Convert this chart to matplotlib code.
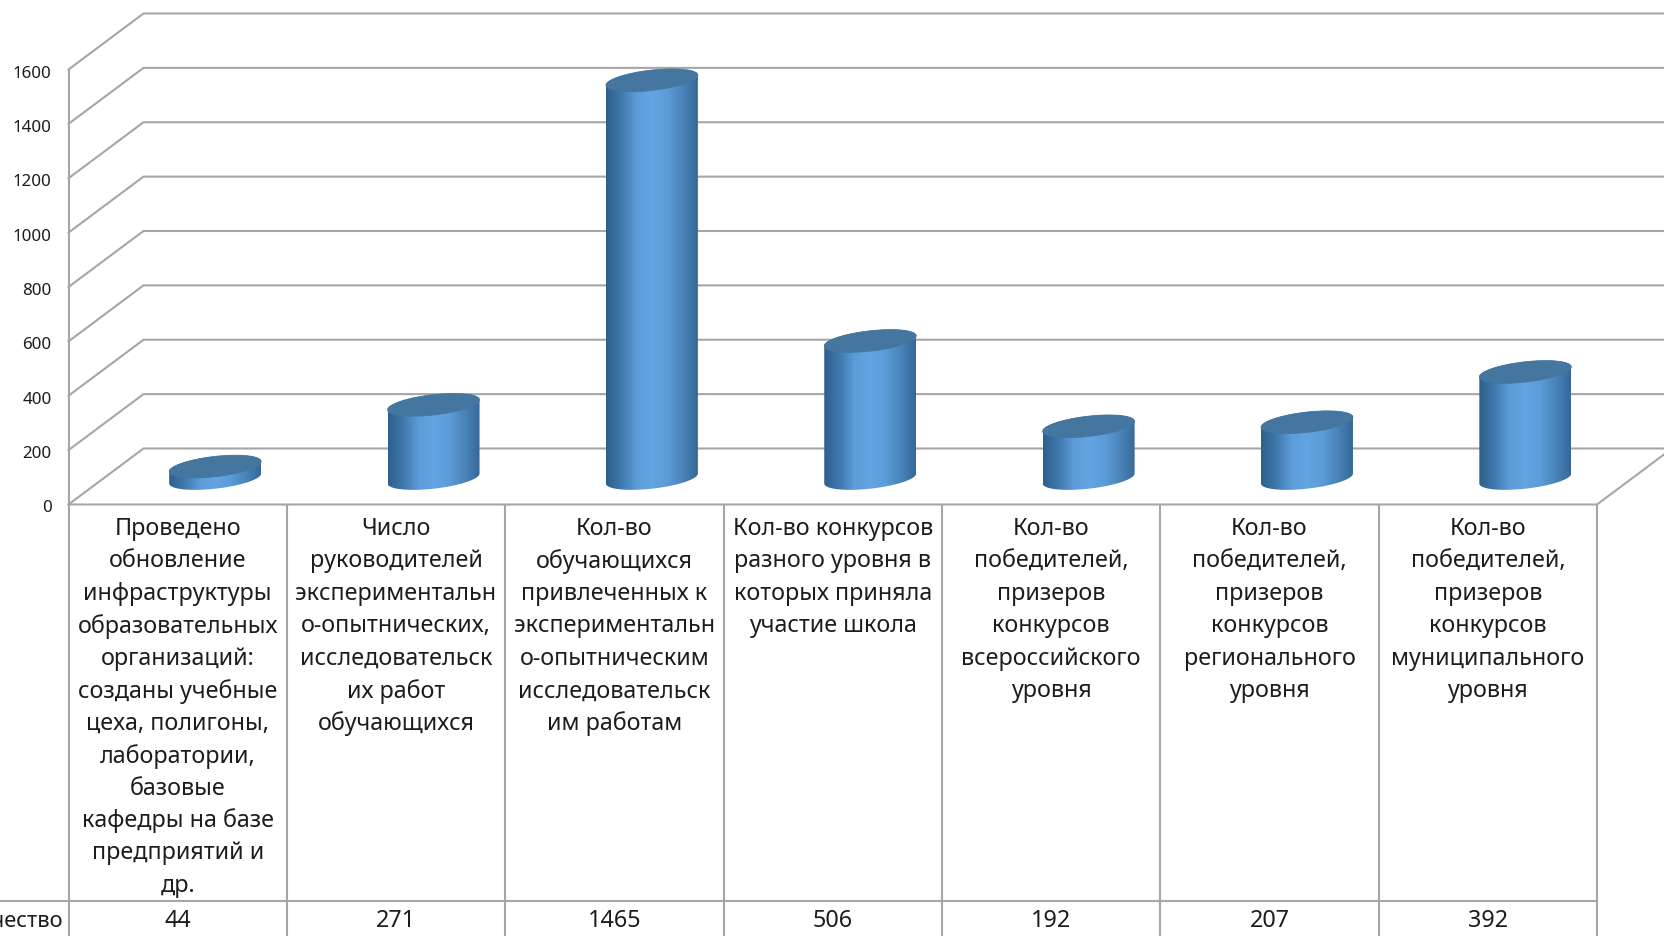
import numpy as np
import matplotlib
matplotlib.use("Agg")
import matplotlib.pyplot as plt
from matplotlib.colors import LinearSegmentedColormap
from matplotlib.patches import Polygon

FONT = "Noto Sans"
W, H = 1664, 937

categories = [
    ["Проведено", "обновление", "инфраструктуры", "образовательных", "организаций:",
     "созданы учебные", "цеха, полигоны,", "лаборатории,", "базовые",
     "кафедры на базе", "предприятий и", "др."],
    ["Число", "руководителей", "экспериментальн", "о-опытнических,",
     "исследовательск", "их работ", "обучающихся"],
    ["Кол-во", "обучающихся", "привлеченных к", "экспериментальн",
     "о-опытническим", "исследовательск", "им работам"],
    ["Кол-во конкурсов", "разного уровня в", "которых приняла", "участие школа"],
    ["Кол-во", "победителей,", "призеров", "конкурсов", "всероссийского", "уровня"],
    ["Кол-во", "победителей,", "призеров", "конкурсов", "регионального", "уровня"],
    ["Кол-во", "победителей,", "призеров", "конкурсов", "муниципального", "уровня"],
]
values = [44, 271, 1465, 506, 192, 207, 392]
y_ticks = [0, 200, 400, 600, 800, 1000, 1200, 1400, 1600]
row_label = "Количество"

GRID = "#a6a6a6"
TEXT = "#1c1c1c"
LEFT, RIGHT, BOTTOM, TOP = 68.5, 1597, 505.5, 70.5
DEPTH_X, DEPTH_Y = 75, 56

fig = plt.figure(figsize=(W / 100, H / 100), dpi=100, facecolor="white")
ax = fig.add_axes([LEFT / W, 1 - BOTTOM / H, (RIGHT - LEFT) / W, (BOTTOM - TOP) / H])
ax.axis("off")

px_x = (RIGHT - LEFT) / len(values)
px_y = (BOTTOM - TOP) / 1600
dx = DEPTH_X / px_x
dy = DEPTH_Y / px_y

# walls: diagonal from the front edge, then the line along the back
for t in y_ticks:
    ax.plot([0, dx, len(values) + dx], [t, t + dy, t + dy], color=GRID, lw=1.5,
            clip_on=False, solid_joinstyle="miter", zorder=1)
    ax.text(-17 / px_x, t - 3 / px_y, str(t), ha="right", va="center", fontsize=12.2,
            family=FONT, color=TEXT, clip_on=False)
ax.plot([0, 0], [0, 1600], color=GRID, lw=1.5, clip_on=False, zorder=1)
ax.plot([0, len(values), len(values) + dx], [0, 0, dy], color=GRID, lw=1.5, clip_on=False, zorder=1)

# cylinders
shade = LinearSegmentedColormap.from_list(
    "cyl", ["#2f5f8c", "#3f78ad", "#5c9cd8", "#62a5e2", "#5c9cd8", "#4a84ba", "#35689a"])
RADIUS, MINOR, SKEW = 46, 10.2, 5
theta = np.linspace(np.pi, 0, 61)

def ring(cx, cy, angles):
    xs = cx + RADIUS * np.cos(angles) / px_x
    ys = cy + (MINOR * np.sin(angles) + SKEW * np.cos(angles)) / px_y
    return xs, ys

for i, v in enumerate(values):
    cx = i + 0.5 + 37.5 / px_x
    base = 26 / px_y
    xb, yb = ring(cx, base, -theta)
    xt, yt = ring(cx, base + v, theta[::-1])
    body = Polygon(np.column_stack([np.r_[xb, xt], np.r_[yb, yt]]), closed=True,
                   fc="none", ec="none", zorder=3)
    ax.add_patch(body)
    # gradient across the width, clipped to the cylinder outline
    im = ax.imshow(np.linspace(0, 1, 256)[None, :], cmap=shade, aspect="auto", zorder=3,
                   extent=[cx - RADIUS / px_x, cx + RADIUS / px_x, 0, base + v + 30 / px_y])
    im.set_clip_path(body)
    x_top, y_top = ring(cx, base + v, np.linspace(0, 2 * np.pi, 120))
    ax.add_patch(Polygon(np.column_stack([x_top, y_top]), closed=True, fc="#44769f", ec="#44769f",
                         lw=0.5, clip_on=False, zorder=4))

ax.set_xlim(0, len(values))
ax.set_ylim(0, 1600)

# data table below the chart, y counted in pixels from the axis line
tab = fig.add_axes([LEFT / W, 0, (RIGHT - LEFT) / W, (H - BOTTOM) / H])
tab.set_xlim(0, len(values))
tab.set_ylim(H - BOTTOM, 0)
tab.axis("off")

ROW_Y = 396.5
for k in range(len(values) + 1):
    tab.plot([k, k], [0, H - BOTTOM], color=GRID, lw=1.5, clip_on=False)
tab.plot([-LEFT / px_x, len(values)], [ROW_Y, ROW_Y], color=GRID, lw=1.5, clip_on=False)

FIRST, STEP = 23.5, 32.45
for i, lines in enumerate(categories):
    for n, line in enumerate(lines):
        tab.text(i + 0.5, FIRST + n * STEP, line, ha="center", va="center", fontsize=16.8,
                 family=FONT, color=TEXT)
    tab.text(i + 0.5, 416, str(values[i]), ha="center", va="center", fontsize=16.8,
             family=FONT, color=TEXT)
tab.text(-5 / px_x, 416, row_label, ha="right", va="center", fontsize=15.8, family=FONT,
         color=TEXT, clip_on=False)

fig.savefig("out.png", dpi=100)
